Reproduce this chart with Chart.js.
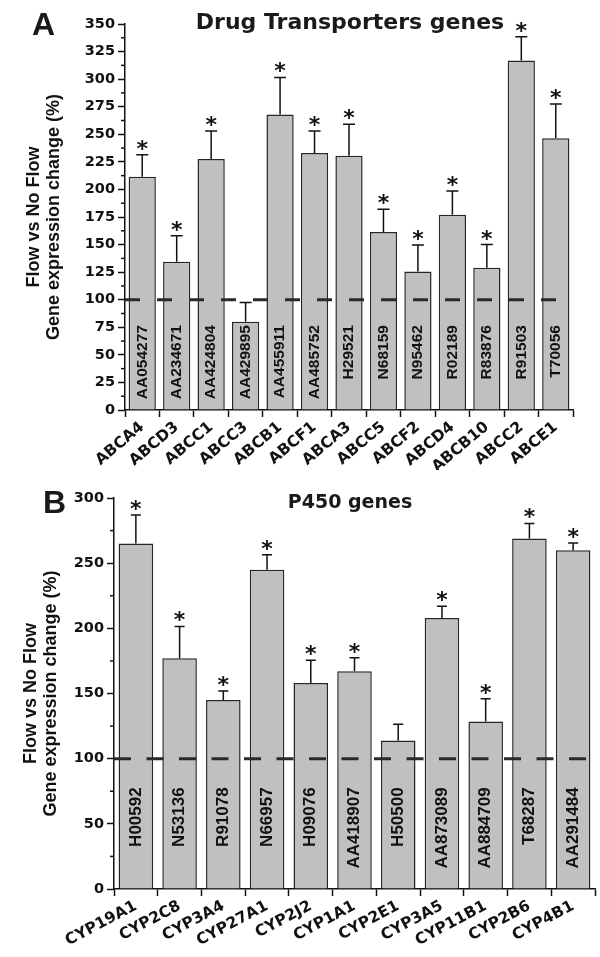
<!DOCTYPE html>
<html>
<head>
<meta charset="utf-8">
<script src="https://cdn.jsdelivr.net/npm/chart.js@4.4.0/dist/chart.umd.min.js"></script>
<style>
  html, body { margin: 0; padding: 0; background: #fff; }
  #wrap { position: relative; width: 600px; height: 957px; }
  canvas { position: absolute; left: 0; }
  #chartA { top: 0; }
  #chartB { top: 470px; }
</style>
</head>
<body>
<div id="wrap">
  <canvas id="chartA" width="600" height="470"></canvas>
  <canvas id="chartB" width="600" height="487"></canvas>
</div>
<script>
// panel A - drug transporters
const genesA = ["ABCA4", "ABCD3", "ABCC1", "ABCC3", "ABCB1", "ABCF1", "ABCA3", "ABCC5", "ABCF2", "ABCD4", "ABCB10", "ABCC2", "ABCE1"];
const idsA = ["AA054277", "AA234671", "AA424804", "AA429895", "AA455911", "AA485752", "H29521", "N68159", "N95462", "R02189", "R83876", "R91503", "T70056"];
const valuesA = [211.5, 134.5, 227.5, 80, 268, 233, 230.5, 161.5, 125.5, 177, 129, 317, 246.5];
const errA = [20, 23.5, 25.5, 17.5, 33.5, 20, 28.5, 20.5, 24, 21.5, 21, 21.5, 31];
const sigA = [true, true, true, false, true, true, true, true, true, true, true, true, true];

// panel B - P450
const genesB = ["CYP19A1", "CYP2C8", "CYP3A4", "CYP27A1", "CYP2J2", "CYP1A1", "CYP2E1", "CYP3A5", "CYP11B1", "CYP2B6", "CYP4B1"];
const idsB = ["H00592", "N53136", "R91078", "N66957", "H09076", "AA418907", "H50500", "AA873089", "AA884709", "T68287", "AA291484"];
const valuesB = [265, 177, 145, 245, 158, 167, 114, 208, 128.5, 269, 260];
const errB = [22, 24.5, 7, 11.5, 17.5, 10.5, 12.5, 9, 17.5, 11.5, 5.5];
const sigB = [true, true, true, true, true, true, false, true, true, true, true];

const yTitle = ["Flow vs No Flow", "Gene expression change (%)"];
const baseline = 100;

const SANS = '"Liberation Sans", Arial, sans-serif';
const WIDE = '"DejaVu Sans", sans-serif';

// extra drawing: ids in bars, dashed line, error bars, stars, minor ticks, titles
function extrasPlugin(p) {
  return {
    id: "extras",
    afterDatasetsDraw(chart) {
      const ctx = chart.ctx;
      const y = chart.scales.y;
      const area = chart.chartArea;
      const bars = chart.getDatasetMeta(0).data;
      ctx.save();

      ctx.fillStyle = "#111";
      ctx.font = "bold " + p.idSize + "px " + SANS;
      ctx.textAlign = "right";
      ctx.textBaseline = "middle";
      bars.forEach((bar, i) => {
        ctx.save();
        ctx.translate(bar.x, y.getPixelForValue(p.idAt));
        ctx.rotate(-Math.PI / 2);
        ctx.fillText(p.ids[i], 0, 0);
        ctx.restore();
      });

      const yb = y.getPixelForValue(baseline);
      ctx.strokeStyle = "#2a2a2a";
      ctx.lineWidth = 3;
      ctx.setLineDash(p.dash);
      ctx.beginPath();
      ctx.moveTo(area.left, yb);
      ctx.lineTo(area.right, yb);
      ctx.stroke();
      ctx.setLineDash([]);

      ctx.strokeStyle = "#111";
      ctx.lineWidth = 1.5;
      ctx.fillStyle = "#111";
      ctx.font = "bold 22px " + WIDE;
      ctx.textAlign = "center";
      ctx.textBaseline = "alphabetic";
      bars.forEach((bar, i) => {
        const top = y.getPixelForValue(p.values[i]);
        const cap = y.getPixelForValue(p.values[i] + p.err[i]);
        ctx.beginPath();
        ctx.moveTo(bar.x, top);
        ctx.lineTo(bar.x, cap);
        ctx.moveTo(bar.x - p.capW / 2, cap);
        ctx.lineTo(bar.x + p.capW / 2, cap);
        ctx.stroke();
        if (p.sig[i]) ctx.fillText("*", bar.x, cap + 1);
      });
      ctx.restore();
    },
    afterDraw(chart) {
      const ctx = chart.ctx;
      const y = chart.scales.y;
      const ax = chart.chartArea.left;
      ctx.save();
      ctx.strokeStyle = "#111";
      ctx.lineWidth = 1.5;
      for (let v = p.minor; v < p.max; v += p.minor * 2) {
        const py = y.getPixelForValue(v);
        ctx.beginPath();
        ctx.moveTo(ax - 4, py);
        ctx.lineTo(ax, py);
        ctx.stroke();
      }
      ctx.fillStyle = "#1a1a1a";
      ctx.font = "bold " + p.titleSize + "px " + WIDE;
      ctx.textAlign = "center";
      ctx.fillText(p.title, p.titleX, p.titleY);
      ctx.font = "bold 32px " + SANS;
      ctx.textAlign = "left";
      ctx.fillText(p.letter, p.letterX, p.letterY);
      ctx.restore();
    },
  };
}

function makePanel(id, p) {
  const canvas = document.getElementById(id);
  return new Chart(canvas.getContext("2d"), {
    type: "bar",
    data: {
      labels: p.labels,
      datasets: [{
        data: p.values,
        backgroundColor: "#c0c0c0",
        borderColor: "#262626",
        borderWidth: 1.5,
        barPercentage: 0.79,
        categoryPercentage: 1,
      }],
    },
    options: {
      responsive: false,
      animation: false,
      events: [],
      layout: { padding: { top: p.top, right: p.right, left: 0, bottom: 0 } },
      plugins: { legend: { display: false }, tooltip: { enabled: false } },
      scales: {
        x: {
          grid: { drawOnChartArea: false, tickLength: 7, tickWidth: 1.5, tickColor: "#111", offset: true },
          border: { color: "#111", width: 1.5 },
          ticks: {
            color: "#111",
            font: { family: WIDE, weight: "bold", size: p.xSize },
            minRotation: p.rot,
            maxRotation: p.rot,
            autoSkip: false,
            padding: 1,
          },
          afterFit(scale) {
            scale.height = p.xHeight;
            scale.paddingLeft = 0;
            scale.paddingRight = 0;
          },
        },
        y: {
          min: 0,
          max: p.max,
          grid: { drawOnChartArea: false, tickLength: 7, tickWidth: 1.5, tickColor: "#111" },
          border: { color: "#111", width: 1.5 },
          ticks: {
            stepSize: p.step,
            color: "#111",
            font: { family: WIDE, weight: "bold", size: 14.5 },
            padding: 3,
          },
          title: {
            display: true,
            text: yTitle,
            color: "#111",
            font: { family: SANS, weight: "bold", size: 18, lineHeight: 1.1 },
            padding: { top: p.titlePad, bottom: 0 },
          },
          afterFit(scale) {
            scale.width = p.yWidth;
            scale.paddingTop = 0;
            scale.paddingBottom = 0;
          },
        },
      },
    },
    plugins: [extrasPlugin(p)],
  });
}

makePanel("chartA", {
  labels: genesA, values: valuesA, err: errA, sig: sigA, ids: idsA,
  max: 350, step: 25, minor: 12.5,
  top: 24, right: 27, yWidth: 125, xHeight: 60,
  xSize: 15.5, rot: 40, idSize: 15.5, idAt: 77, capW: 12,
  dash: [15, 17], titlePad: 24,
  title: "Drug Transporters genes", titleSize: 22, titleX: 350, titleY: 29,
  letter: "A", letterX: 32, letterY: 35,
});

makePanel("chartB", {
  labels: genesB, values: valuesB, err: errB, sig: sigB, ids: idsB,
  max: 300, step: 50, minor: 25,
  top: 28, right: 5, yWidth: 114, xHeight: 68,
  xSize: 15.5, rot: 28, idSize: 17, idAt: 78, capW: 10,
  dash: [17, 15.5], titlePad: 21,
  title: "P450 genes", titleSize: 19, titleX: 350, titleY: 38,
  letter: "B", letterX: 43, letterY: 43,
});
</script>
</body>
</html>
